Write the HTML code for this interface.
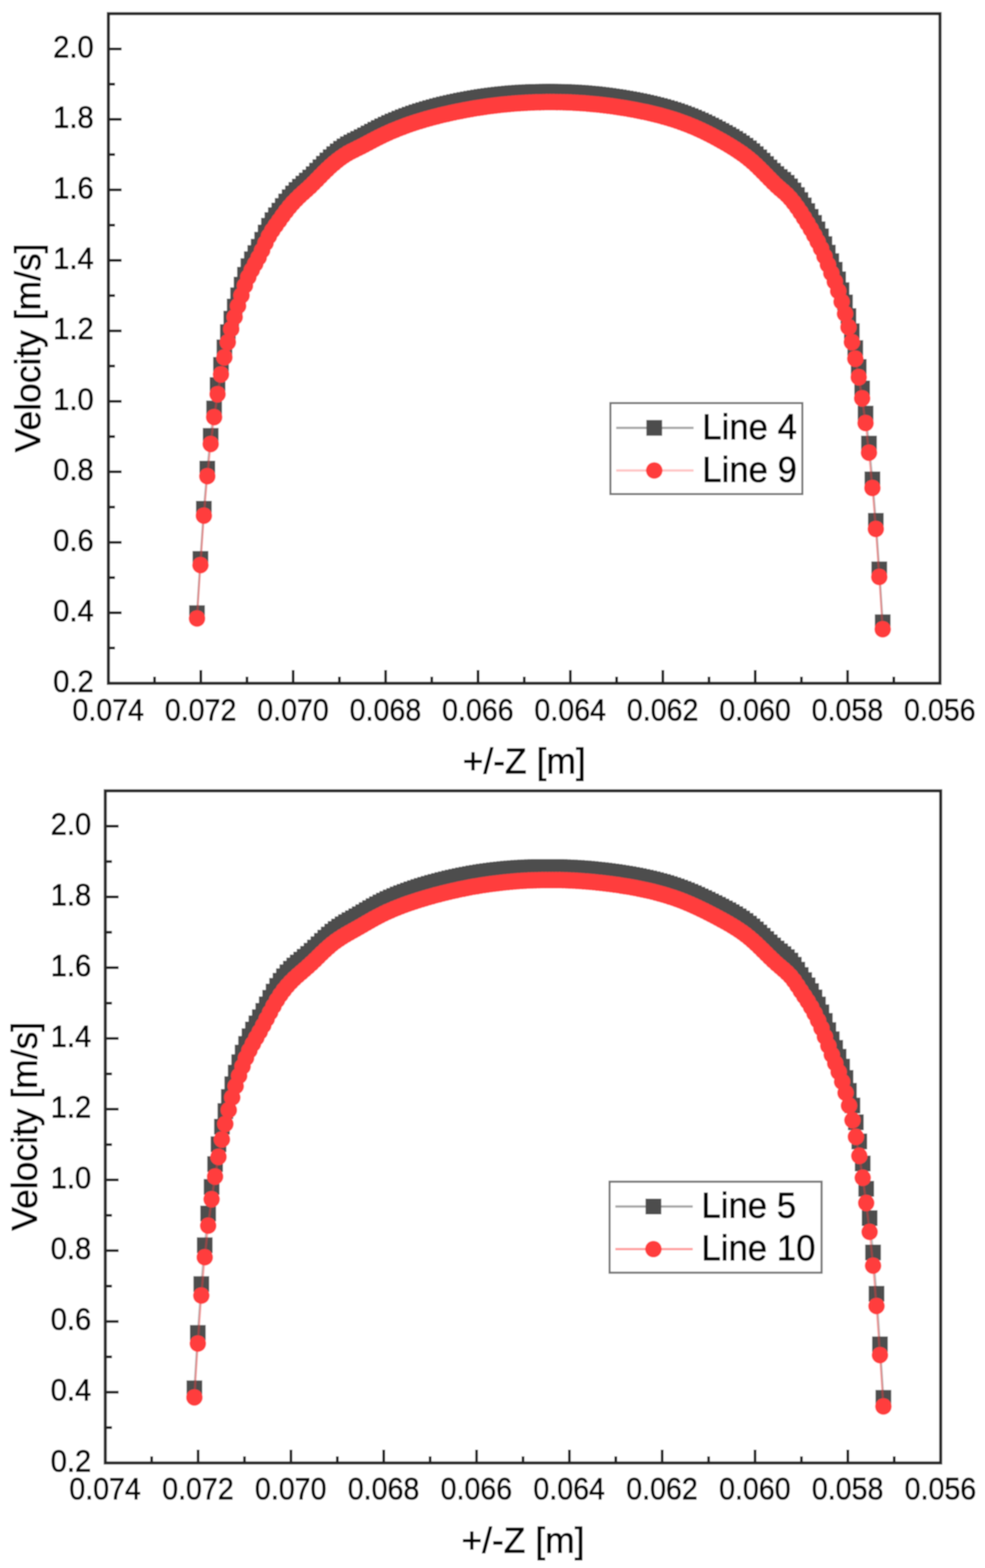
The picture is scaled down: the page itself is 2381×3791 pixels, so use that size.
<!DOCTYPE html>
<html lang="en">
<head>
<meta charset="utf-8">
<title>Velocity profiles</title>
<style>
html,body{margin:0;padding:0;background:#fff;}
body{width:2381px;height:3791px;overflow:hidden;}
svg{display:block;font-family:"Liberation Sans", Arial, Helvetica, sans-serif;}
text{fill:#000;stroke:#000;stroke-width:1.7px;stroke-linejoin:round;}
</style>
</head>
<body>
<svg width="2381" height="3791" viewBox="0 0 2381 3791">
<defs><filter id="soft" x="0" y="0" width="100%" height="100%" filterUnits="objectBoundingBox"><feGaussianBlur stdDeviation="1.4"/></filter></defs>
<g filter="url(#soft)">
<rect width="2381" height="3791" fill="#fff"/>
<polyline points="476.2,1482.4 484.5,1351.3 492.8,1230.0 501.1,1133.0 509.3,1053.8 517.6,987.5 525.9,930.9 534.2,882.1 542.5,839.8 550.8,802.9 559.1,770.4 567.4,741.0 575.6,713.8 583.9,688.2 592.2,664.2 600.5,643.4 608.8,626.7 617.1,611.7 625.4,596.5 633.7,579.6 642.0,562.0 650.2,545.7 658.5,532.0 666.8,520.2 675.1,509.0 683.4,497.8 691.7,486.9 700.0,476.7 708.2,467.5 716.5,459.1 724.8,451.1 733.1,443.7 741.4,436.4 749.7,428.9 758.0,420.9 766.3,412.5 774.5,404.1 782.8,395.7 791.1,387.7 799.4,379.9 807.7,372.6 816.0,365.8 824.3,359.5 832.6,353.8 840.8,348.6 849.1,344.0 857.4,339.7 865.7,335.6 874.0,331.4 882.3,327.0 890.6,322.5 898.9,318.0 907.1,313.6 915.4,309.3 923.7,305.1 932.0,301.1 940.3,297.2 948.6,293.5 956.9,290.0 965.2,286.6 973.5,283.3 981.7,280.1 990.0,277.1 998.3,274.2 1006.6,271.4 1014.9,268.7 1023.2,266.2 1031.5,263.7 1039.8,261.3 1048.0,259.0 1056.3,256.7 1064.6,254.6 1072.9,252.5 1081.2,250.6 1089.5,248.7 1097.8,246.8 1106.0,245.0 1114.3,243.3 1122.6,241.7 1130.9,240.1 1139.2,238.6 1147.5,237.1 1155.8,235.7 1164.1,234.4 1172.3,233.1 1180.6,231.9 1188.9,230.8 1197.2,229.8 1205.5,228.8 1213.8,227.8 1222.1,227.0 1230.4,226.2 1238.6,225.4 1246.9,224.8 1255.2,224.2 1263.5,223.6 1271.8,223.2 1280.1,222.8 1288.4,222.4 1296.7,222.2 1305.0,222.0 1313.2,221.8 1321.5,221.7 1329.8,221.7 1338.1,221.8 1346.4,221.9 1354.7,222.1 1363.0,222.3 1371.2,222.7 1379.5,223.0 1387.8,223.5 1396.1,224.0 1404.4,224.6 1412.7,225.3 1421.0,226.0 1429.3,226.8 1437.5,227.6 1445.8,228.6 1454.1,229.6 1462.4,230.6 1470.7,231.7 1479.0,232.9 1487.3,234.1 1495.6,235.4 1503.8,236.8 1512.1,238.2 1520.4,239.7 1528.7,241.2 1537.0,242.8 1545.3,244.5 1553.6,246.2 1561.9,248.0 1570.2,249.9 1578.4,251.9 1586.7,254.0 1595.0,256.1 1603.3,258.4 1611.6,260.8 1619.9,263.2 1628.2,265.8 1636.5,268.5 1644.7,271.4 1653.0,274.3 1661.3,277.5 1669.6,280.7 1677.9,284.1 1686.2,287.7 1694.5,291.4 1702.8,295.3 1711.0,299.2 1719.3,303.4 1727.6,307.6 1735.9,312.0 1744.2,316.5 1752.5,321.0 1760.8,325.7 1769.0,330.5 1777.3,335.5 1785.6,340.8 1793.9,346.3 1802.2,352.1 1810.5,358.4 1818.8,365.2 1827.1,372.5 1835.3,380.2 1843.6,388.2 1851.9,396.4 1860.2,404.7 1868.5,412.8 1876.8,420.6 1885.1,427.8 1893.4,434.5 1901.7,441.8 1909.9,450.4 1918.2,460.3 1926.5,471.4 1934.8,483.6 1943.1,496.5 1951.4,510.1 1959.7,524.0 1968.0,538.7 1976.2,554.3 1984.5,571.2 1992.8,590.0 2001.1,610.7 2009.4,631.3 2017.7,652.0 2026.0,675.2 2034.2,701.5 2042.5,731.0 2050.8,764.0 2059.1,800.7 2067.4,841.5 2075.7,887.1 2084.0,939.1 2092.3,999.9 2100.5,1072.5 2108.8,1158.9 2117.1,1259.2 2125.4,1376.5 2133.7,1504.4" fill="none" stroke="#4d4d4d" stroke-opacity="0.35" stroke-width="5"/>
<g fill="#4d4d4d"><rect x="457.2" y="1463.4" width="38" height="38"/><rect x="465.5" y="1332.3" width="38" height="38"/><rect x="473.8" y="1211.0" width="38" height="38"/><rect x="482.1" y="1114.0" width="38" height="38"/><rect x="490.3" y="1034.8" width="38" height="38"/><rect x="498.6" y="968.5" width="38" height="38"/><rect x="506.9" y="911.9" width="38" height="38"/><rect x="515.2" y="863.1" width="38" height="38"/><rect x="523.5" y="820.8" width="38" height="38"/><rect x="531.8" y="783.9" width="38" height="38"/><rect x="540.1" y="751.4" width="38" height="38"/><rect x="548.4" y="722.0" width="38" height="38"/><rect x="556.6" y="694.8" width="38" height="38"/><rect x="564.9" y="669.2" width="38" height="38"/><rect x="573.2" y="645.2" width="38" height="38"/><rect x="581.5" y="624.4" width="38" height="38"/><rect x="589.8" y="607.7" width="38" height="38"/><rect x="598.1" y="592.7" width="38" height="38"/><rect x="606.4" y="577.5" width="38" height="38"/><rect x="614.7" y="560.6" width="38" height="38"/><rect x="623.0" y="543.0" width="38" height="38"/><rect x="631.2" y="526.7" width="38" height="38"/><rect x="639.5" y="513.0" width="38" height="38"/><rect x="647.8" y="501.2" width="38" height="38"/><rect x="656.1" y="490.0" width="38" height="38"/><rect x="664.4" y="478.8" width="38" height="38"/><rect x="672.7" y="467.9" width="38" height="38"/><rect x="681.0" y="457.7" width="38" height="38"/><rect x="689.2" y="448.5" width="38" height="38"/><rect x="697.5" y="440.1" width="38" height="38"/><rect x="705.8" y="432.1" width="38" height="38"/><rect x="714.1" y="424.7" width="38" height="38"/><rect x="722.4" y="417.4" width="38" height="38"/><rect x="730.7" y="409.9" width="38" height="38"/><rect x="739.0" y="401.9" width="38" height="38"/><rect x="747.3" y="393.5" width="38" height="38"/><rect x="755.5" y="385.1" width="38" height="38"/><rect x="763.8" y="376.7" width="38" height="38"/><rect x="772.1" y="368.7" width="38" height="38"/><rect x="780.4" y="360.9" width="38" height="38"/><rect x="788.7" y="353.6" width="38" height="38"/><rect x="797.0" y="346.8" width="38" height="38"/><rect x="805.3" y="340.5" width="38" height="38"/><rect x="813.6" y="334.8" width="38" height="38"/><rect x="821.8" y="329.6" width="38" height="38"/><rect x="830.1" y="325.0" width="38" height="38"/><rect x="838.4" y="320.7" width="38" height="38"/><rect x="846.7" y="316.6" width="38" height="38"/><rect x="855.0" y="312.4" width="38" height="38"/><rect x="863.3" y="308.0" width="38" height="38"/><rect x="871.6" y="303.5" width="38" height="38"/><rect x="879.9" y="299.0" width="38" height="38"/><rect x="888.1" y="294.6" width="38" height="38"/><rect x="896.4" y="290.3" width="38" height="38"/><rect x="904.7" y="286.1" width="38" height="38"/><rect x="913.0" y="282.1" width="38" height="38"/><rect x="921.3" y="278.2" width="38" height="38"/><rect x="929.6" y="274.5" width="38" height="38"/><rect x="937.9" y="271.0" width="38" height="38"/><rect x="946.2" y="267.6" width="38" height="38"/><rect x="954.5" y="264.3" width="38" height="38"/><rect x="962.7" y="261.1" width="38" height="38"/><rect x="971.0" y="258.1" width="38" height="38"/><rect x="979.3" y="255.2" width="38" height="38"/><rect x="987.6" y="252.4" width="38" height="38"/><rect x="995.9" y="249.7" width="38" height="38"/><rect x="1004.2" y="247.2" width="38" height="38"/><rect x="1012.5" y="244.7" width="38" height="38"/><rect x="1020.8" y="242.3" width="38" height="38"/><rect x="1029.0" y="240.0" width="38" height="38"/><rect x="1037.3" y="237.7" width="38" height="38"/><rect x="1045.6" y="235.6" width="38" height="38"/><rect x="1053.9" y="233.5" width="38" height="38"/><rect x="1062.2" y="231.6" width="38" height="38"/><rect x="1070.5" y="229.7" width="38" height="38"/><rect x="1078.8" y="227.8" width="38" height="38"/><rect x="1087.0" y="226.0" width="38" height="38"/><rect x="1095.3" y="224.3" width="38" height="38"/><rect x="1103.6" y="222.7" width="38" height="38"/><rect x="1111.9" y="221.1" width="38" height="38"/><rect x="1120.2" y="219.6" width="38" height="38"/><rect x="1128.5" y="218.1" width="38" height="38"/><rect x="1136.8" y="216.7" width="38" height="38"/><rect x="1145.1" y="215.4" width="38" height="38"/><rect x="1153.3" y="214.1" width="38" height="38"/><rect x="1161.6" y="212.9" width="38" height="38"/><rect x="1169.9" y="211.8" width="38" height="38"/><rect x="1178.2" y="210.8" width="38" height="38"/><rect x="1186.5" y="209.8" width="38" height="38"/><rect x="1194.8" y="208.8" width="38" height="38"/><rect x="1203.1" y="208.0" width="38" height="38"/><rect x="1211.4" y="207.2" width="38" height="38"/><rect x="1219.6" y="206.4" width="38" height="38"/><rect x="1227.9" y="205.8" width="38" height="38"/><rect x="1236.2" y="205.2" width="38" height="38"/><rect x="1244.5" y="204.6" width="38" height="38"/><rect x="1252.8" y="204.2" width="38" height="38"/><rect x="1261.1" y="203.8" width="38" height="38"/><rect x="1269.4" y="203.4" width="38" height="38"/><rect x="1277.7" y="203.2" width="38" height="38"/><rect x="1286.0" y="203.0" width="38" height="38"/><rect x="1294.2" y="202.8" width="38" height="38"/><rect x="1302.5" y="202.7" width="38" height="38"/><rect x="1310.8" y="202.7" width="38" height="38"/><rect x="1319.1" y="202.8" width="38" height="38"/><rect x="1327.4" y="202.9" width="38" height="38"/><rect x="1335.7" y="203.1" width="38" height="38"/><rect x="1344.0" y="203.3" width="38" height="38"/><rect x="1352.2" y="203.7" width="38" height="38"/><rect x="1360.5" y="204.0" width="38" height="38"/><rect x="1368.8" y="204.5" width="38" height="38"/><rect x="1377.1" y="205.0" width="38" height="38"/><rect x="1385.4" y="205.6" width="38" height="38"/><rect x="1393.7" y="206.3" width="38" height="38"/><rect x="1402.0" y="207.0" width="38" height="38"/><rect x="1410.3" y="207.8" width="38" height="38"/><rect x="1418.5" y="208.6" width="38" height="38"/><rect x="1426.8" y="209.6" width="38" height="38"/><rect x="1435.1" y="210.6" width="38" height="38"/><rect x="1443.4" y="211.6" width="38" height="38"/><rect x="1451.7" y="212.7" width="38" height="38"/><rect x="1460.0" y="213.9" width="38" height="38"/><rect x="1468.3" y="215.1" width="38" height="38"/><rect x="1476.6" y="216.4" width="38" height="38"/><rect x="1484.8" y="217.8" width="38" height="38"/><rect x="1493.1" y="219.2" width="38" height="38"/><rect x="1501.4" y="220.7" width="38" height="38"/><rect x="1509.7" y="222.2" width="38" height="38"/><rect x="1518.0" y="223.8" width="38" height="38"/><rect x="1526.3" y="225.5" width="38" height="38"/><rect x="1534.6" y="227.2" width="38" height="38"/><rect x="1542.9" y="229.0" width="38" height="38"/><rect x="1551.2" y="230.9" width="38" height="38"/><rect x="1559.4" y="232.9" width="38" height="38"/><rect x="1567.7" y="235.0" width="38" height="38"/><rect x="1576.0" y="237.1" width="38" height="38"/><rect x="1584.3" y="239.4" width="38" height="38"/><rect x="1592.6" y="241.8" width="38" height="38"/><rect x="1600.9" y="244.2" width="38" height="38"/><rect x="1609.2" y="246.8" width="38" height="38"/><rect x="1617.5" y="249.5" width="38" height="38"/><rect x="1625.7" y="252.4" width="38" height="38"/><rect x="1634.0" y="255.3" width="38" height="38"/><rect x="1642.3" y="258.5" width="38" height="38"/><rect x="1650.6" y="261.7" width="38" height="38"/><rect x="1658.9" y="265.1" width="38" height="38"/><rect x="1667.2" y="268.7" width="38" height="38"/><rect x="1675.5" y="272.4" width="38" height="38"/><rect x="1683.8" y="276.3" width="38" height="38"/><rect x="1692.0" y="280.2" width="38" height="38"/><rect x="1700.3" y="284.4" width="38" height="38"/><rect x="1708.6" y="288.6" width="38" height="38"/><rect x="1716.9" y="293.0" width="38" height="38"/><rect x="1725.2" y="297.5" width="38" height="38"/><rect x="1733.5" y="302.0" width="38" height="38"/><rect x="1741.8" y="306.7" width="38" height="38"/><rect x="1750.0" y="311.5" width="38" height="38"/><rect x="1758.3" y="316.5" width="38" height="38"/><rect x="1766.6" y="321.8" width="38" height="38"/><rect x="1774.9" y="327.3" width="38" height="38"/><rect x="1783.2" y="333.1" width="38" height="38"/><rect x="1791.5" y="339.4" width="38" height="38"/><rect x="1799.8" y="346.2" width="38" height="38"/><rect x="1808.1" y="353.5" width="38" height="38"/><rect x="1816.3" y="361.2" width="38" height="38"/><rect x="1824.6" y="369.2" width="38" height="38"/><rect x="1832.9" y="377.4" width="38" height="38"/><rect x="1841.2" y="385.7" width="38" height="38"/><rect x="1849.5" y="393.8" width="38" height="38"/><rect x="1857.8" y="401.6" width="38" height="38"/><rect x="1866.1" y="408.8" width="38" height="38"/><rect x="1874.4" y="415.5" width="38" height="38"/><rect x="1882.7" y="422.8" width="38" height="38"/><rect x="1890.9" y="431.4" width="38" height="38"/><rect x="1899.2" y="441.3" width="38" height="38"/><rect x="1907.5" y="452.4" width="38" height="38"/><rect x="1915.8" y="464.6" width="38" height="38"/><rect x="1924.1" y="477.5" width="38" height="38"/><rect x="1932.4" y="491.1" width="38" height="38"/><rect x="1940.7" y="505.0" width="38" height="38"/><rect x="1949.0" y="519.7" width="38" height="38"/><rect x="1957.2" y="535.3" width="38" height="38"/><rect x="1965.5" y="552.2" width="38" height="38"/><rect x="1973.8" y="571.0" width="38" height="38"/><rect x="1982.1" y="591.7" width="38" height="38"/><rect x="1990.4" y="612.3" width="38" height="38"/><rect x="1998.7" y="633.0" width="38" height="38"/><rect x="2007.0" y="656.2" width="38" height="38"/><rect x="2015.2" y="682.5" width="38" height="38"/><rect x="2023.5" y="712.0" width="38" height="38"/><rect x="2031.8" y="745.0" width="38" height="38"/><rect x="2040.1" y="781.7" width="38" height="38"/><rect x="2048.4" y="822.5" width="38" height="38"/><rect x="2056.7" y="868.1" width="38" height="38"/><rect x="2065.0" y="920.1" width="38" height="38"/><rect x="2073.3" y="980.9" width="38" height="38"/><rect x="2081.5" y="1053.5" width="38" height="38"/><rect x="2089.8" y="1139.9" width="38" height="38"/><rect x="2098.1" y="1240.2" width="38" height="38"/><rect x="2106.4" y="1357.5" width="38" height="38"/><rect x="2114.7" y="1485.4" width="38" height="38"/></g>
<polyline points="476.2,1495.5 484.5,1366.4 492.8,1246.9 501.1,1151.5 509.3,1073.7 517.6,1008.7 525.9,953.2 534.2,905.3 542.5,863.9 550.8,827.6 559.1,795.7 567.4,766.7 575.6,739.9 583.9,714.5 592.2,690.7 600.5,670.0 608.8,653.2 617.1,638.2 625.4,622.8 633.7,605.7 642.0,587.9 650.2,571.4 658.5,557.4 666.8,545.3 675.1,533.8 683.4,522.2 691.7,511.0 700.0,500.5 708.2,491.0 716.5,482.4 724.8,474.2 733.1,466.6 741.4,459.2 749.7,451.5 758.0,443.4 766.3,435.0 774.5,426.5 782.8,418.1 791.1,410.0 799.4,402.2 807.7,395.0 816.0,388.2 824.3,381.9 832.6,376.2 840.8,371.1 849.1,366.6 857.4,362.4 865.7,358.3 874.0,354.2 882.3,349.9 890.6,345.5 898.9,341.1 907.1,336.8 915.4,332.5 923.7,328.4 932.0,324.5 940.3,320.7 948.6,317.1 956.9,313.7 965.2,310.3 973.5,307.2 981.7,304.1 990.0,301.1 998.3,298.3 1006.6,295.6 1014.9,293.0 1023.2,290.5 1031.5,288.1 1039.8,285.7 1048.0,283.5 1056.3,281.4 1064.6,279.3 1072.9,277.3 1081.2,275.4 1089.5,273.5 1097.8,271.7 1106.0,270.0 1114.3,268.4 1122.6,266.8 1130.9,265.2 1139.2,263.8 1147.5,262.3 1155.8,261.0 1164.1,259.7 1172.3,258.5 1180.6,257.3 1188.9,256.2 1197.2,255.2 1205.5,254.2 1213.8,253.3 1222.1,252.4 1230.4,251.7 1238.6,250.9 1246.9,250.3 1255.2,249.7 1263.5,249.2 1271.8,248.7 1280.1,248.3 1288.4,247.9 1296.7,247.6 1305.0,247.4 1313.2,247.2 1321.5,247.1 1329.8,247.1 1338.1,247.1 1346.4,247.2 1354.7,247.3 1363.0,247.5 1371.2,247.8 1379.5,248.1 1387.8,248.5 1396.1,249.0 1404.4,249.5 1412.7,250.1 1421.0,250.7 1429.3,251.5 1437.5,252.2 1445.8,253.1 1454.1,254.0 1462.4,255.0 1470.7,256.0 1479.0,257.1 1487.3,258.3 1495.6,259.5 1503.8,260.8 1512.1,262.1 1520.4,263.5 1528.7,265.0 1537.0,266.5 1545.3,268.2 1553.6,269.9 1561.9,271.6 1570.2,273.5 1578.4,275.4 1586.7,277.5 1595.0,279.6 1603.3,281.9 1611.6,284.2 1619.9,286.7 1628.2,289.3 1636.5,292.0 1644.7,294.9 1653.0,297.9 1661.3,301.0 1669.6,304.4 1677.9,307.8 1686.2,311.5 1694.5,315.3 1702.8,319.2 1711.0,323.3 1719.3,327.5 1727.6,331.9 1735.9,336.4 1744.2,341.1 1752.5,345.8 1760.8,350.7 1769.0,355.7 1777.3,360.9 1785.6,366.4 1793.9,372.1 1802.2,378.2 1810.5,384.8 1818.8,391.8 1827.1,399.4 1835.3,407.4 1843.6,415.7 1851.9,424.2 1860.2,432.7 1868.5,441.1 1876.8,449.2 1885.1,456.6 1893.4,463.6 1901.7,471.2 1909.9,479.9 1918.2,490.0 1926.5,501.3 1934.8,513.5 1943.1,526.6 1951.4,540.2 1959.7,554.2 1968.0,568.8 1976.2,584.3 1984.5,601.2 1992.8,619.8 2001.1,640.2 2009.4,660.7 2017.7,681.0 2026.0,703.9 2034.2,729.7 2042.5,758.7 2050.8,791.1 2059.1,827.2 2067.4,867.3 2075.7,912.1 2084.0,963.3 2092.3,1023.1 2100.5,1094.7 2108.8,1180.0 2117.1,1279.1 2125.4,1395.1 2133.7,1521.6" fill="none" stroke="#ff3c3c" stroke-opacity="0.4" stroke-width="5"/>
<g fill="#ff3c3c"><circle cx="476.2" cy="1495.5" r="20"/><circle cx="484.5" cy="1366.4" r="20"/><circle cx="492.8" cy="1246.9" r="20"/><circle cx="501.1" cy="1151.5" r="20"/><circle cx="509.3" cy="1073.7" r="20"/><circle cx="517.6" cy="1008.7" r="20"/><circle cx="525.9" cy="953.2" r="20"/><circle cx="534.2" cy="905.3" r="20"/><circle cx="542.5" cy="863.9" r="20"/><circle cx="550.8" cy="827.6" r="20"/><circle cx="559.1" cy="795.7" r="20"/><circle cx="567.4" cy="766.7" r="20"/><circle cx="575.6" cy="739.9" r="20"/><circle cx="583.9" cy="714.5" r="20"/><circle cx="592.2" cy="690.7" r="20"/><circle cx="600.5" cy="670.0" r="20"/><circle cx="608.8" cy="653.2" r="20"/><circle cx="617.1" cy="638.2" r="20"/><circle cx="625.4" cy="622.8" r="20"/><circle cx="633.7" cy="605.7" r="20"/><circle cx="642.0" cy="587.9" r="20"/><circle cx="650.2" cy="571.4" r="20"/><circle cx="658.5" cy="557.4" r="20"/><circle cx="666.8" cy="545.3" r="20"/><circle cx="675.1" cy="533.8" r="20"/><circle cx="683.4" cy="522.2" r="20"/><circle cx="691.7" cy="511.0" r="20"/><circle cx="700.0" cy="500.5" r="20"/><circle cx="708.2" cy="491.0" r="20"/><circle cx="716.5" cy="482.4" r="20"/><circle cx="724.8" cy="474.2" r="20"/><circle cx="733.1" cy="466.6" r="20"/><circle cx="741.4" cy="459.2" r="20"/><circle cx="749.7" cy="451.5" r="20"/><circle cx="758.0" cy="443.4" r="20"/><circle cx="766.3" cy="435.0" r="20"/><circle cx="774.5" cy="426.5" r="20"/><circle cx="782.8" cy="418.1" r="20"/><circle cx="791.1" cy="410.0" r="20"/><circle cx="799.4" cy="402.2" r="20"/><circle cx="807.7" cy="395.0" r="20"/><circle cx="816.0" cy="388.2" r="20"/><circle cx="824.3" cy="381.9" r="20"/><circle cx="832.6" cy="376.2" r="20"/><circle cx="840.8" cy="371.1" r="20"/><circle cx="849.1" cy="366.6" r="20"/><circle cx="857.4" cy="362.4" r="20"/><circle cx="865.7" cy="358.3" r="20"/><circle cx="874.0" cy="354.2" r="20"/><circle cx="882.3" cy="349.9" r="20"/><circle cx="890.6" cy="345.5" r="20"/><circle cx="898.9" cy="341.1" r="20"/><circle cx="907.1" cy="336.8" r="20"/><circle cx="915.4" cy="332.5" r="20"/><circle cx="923.7" cy="328.4" r="20"/><circle cx="932.0" cy="324.5" r="20"/><circle cx="940.3" cy="320.7" r="20"/><circle cx="948.6" cy="317.1" r="20"/><circle cx="956.9" cy="313.7" r="20"/><circle cx="965.2" cy="310.3" r="20"/><circle cx="973.5" cy="307.2" r="20"/><circle cx="981.7" cy="304.1" r="20"/><circle cx="990.0" cy="301.1" r="20"/><circle cx="998.3" cy="298.3" r="20"/><circle cx="1006.6" cy="295.6" r="20"/><circle cx="1014.9" cy="293.0" r="20"/><circle cx="1023.2" cy="290.5" r="20"/><circle cx="1031.5" cy="288.1" r="20"/><circle cx="1039.8" cy="285.7" r="20"/><circle cx="1048.0" cy="283.5" r="20"/><circle cx="1056.3" cy="281.4" r="20"/><circle cx="1064.6" cy="279.3" r="20"/><circle cx="1072.9" cy="277.3" r="20"/><circle cx="1081.2" cy="275.4" r="20"/><circle cx="1089.5" cy="273.5" r="20"/><circle cx="1097.8" cy="271.7" r="20"/><circle cx="1106.0" cy="270.0" r="20"/><circle cx="1114.3" cy="268.4" r="20"/><circle cx="1122.6" cy="266.8" r="20"/><circle cx="1130.9" cy="265.2" r="20"/><circle cx="1139.2" cy="263.8" r="20"/><circle cx="1147.5" cy="262.3" r="20"/><circle cx="1155.8" cy="261.0" r="20"/><circle cx="1164.1" cy="259.7" r="20"/><circle cx="1172.3" cy="258.5" r="20"/><circle cx="1180.6" cy="257.3" r="20"/><circle cx="1188.9" cy="256.2" r="20"/><circle cx="1197.2" cy="255.2" r="20"/><circle cx="1205.5" cy="254.2" r="20"/><circle cx="1213.8" cy="253.3" r="20"/><circle cx="1222.1" cy="252.4" r="20"/><circle cx="1230.4" cy="251.7" r="20"/><circle cx="1238.6" cy="250.9" r="20"/><circle cx="1246.9" cy="250.3" r="20"/><circle cx="1255.2" cy="249.7" r="20"/><circle cx="1263.5" cy="249.2" r="20"/><circle cx="1271.8" cy="248.7" r="20"/><circle cx="1280.1" cy="248.3" r="20"/><circle cx="1288.4" cy="247.9" r="20"/><circle cx="1296.7" cy="247.6" r="20"/><circle cx="1305.0" cy="247.4" r="20"/><circle cx="1313.2" cy="247.2" r="20"/><circle cx="1321.5" cy="247.1" r="20"/><circle cx="1329.8" cy="247.1" r="20"/><circle cx="1338.1" cy="247.1" r="20"/><circle cx="1346.4" cy="247.2" r="20"/><circle cx="1354.7" cy="247.3" r="20"/><circle cx="1363.0" cy="247.5" r="20"/><circle cx="1371.2" cy="247.8" r="20"/><circle cx="1379.5" cy="248.1" r="20"/><circle cx="1387.8" cy="248.5" r="20"/><circle cx="1396.1" cy="249.0" r="20"/><circle cx="1404.4" cy="249.5" r="20"/><circle cx="1412.7" cy="250.1" r="20"/><circle cx="1421.0" cy="250.7" r="20"/><circle cx="1429.3" cy="251.5" r="20"/><circle cx="1437.5" cy="252.2" r="20"/><circle cx="1445.8" cy="253.1" r="20"/><circle cx="1454.1" cy="254.0" r="20"/><circle cx="1462.4" cy="255.0" r="20"/><circle cx="1470.7" cy="256.0" r="20"/><circle cx="1479.0" cy="257.1" r="20"/><circle cx="1487.3" cy="258.3" r="20"/><circle cx="1495.6" cy="259.5" r="20"/><circle cx="1503.8" cy="260.8" r="20"/><circle cx="1512.1" cy="262.1" r="20"/><circle cx="1520.4" cy="263.5" r="20"/><circle cx="1528.7" cy="265.0" r="20"/><circle cx="1537.0" cy="266.5" r="20"/><circle cx="1545.3" cy="268.2" r="20"/><circle cx="1553.6" cy="269.9" r="20"/><circle cx="1561.9" cy="271.6" r="20"/><circle cx="1570.2" cy="273.5" r="20"/><circle cx="1578.4" cy="275.4" r="20"/><circle cx="1586.7" cy="277.5" r="20"/><circle cx="1595.0" cy="279.6" r="20"/><circle cx="1603.3" cy="281.9" r="20"/><circle cx="1611.6" cy="284.2" r="20"/><circle cx="1619.9" cy="286.7" r="20"/><circle cx="1628.2" cy="289.3" r="20"/><circle cx="1636.5" cy="292.0" r="20"/><circle cx="1644.7" cy="294.9" r="20"/><circle cx="1653.0" cy="297.9" r="20"/><circle cx="1661.3" cy="301.0" r="20"/><circle cx="1669.6" cy="304.4" r="20"/><circle cx="1677.9" cy="307.8" r="20"/><circle cx="1686.2" cy="311.5" r="20"/><circle cx="1694.5" cy="315.3" r="20"/><circle cx="1702.8" cy="319.2" r="20"/><circle cx="1711.0" cy="323.3" r="20"/><circle cx="1719.3" cy="327.5" r="20"/><circle cx="1727.6" cy="331.9" r="20"/><circle cx="1735.9" cy="336.4" r="20"/><circle cx="1744.2" cy="341.1" r="20"/><circle cx="1752.5" cy="345.8" r="20"/><circle cx="1760.8" cy="350.7" r="20"/><circle cx="1769.0" cy="355.7" r="20"/><circle cx="1777.3" cy="360.9" r="20"/><circle cx="1785.6" cy="366.4" r="20"/><circle cx="1793.9" cy="372.1" r="20"/><circle cx="1802.2" cy="378.2" r="20"/><circle cx="1810.5" cy="384.8" r="20"/><circle cx="1818.8" cy="391.8" r="20"/><circle cx="1827.1" cy="399.4" r="20"/><circle cx="1835.3" cy="407.4" r="20"/><circle cx="1843.6" cy="415.7" r="20"/><circle cx="1851.9" cy="424.2" r="20"/><circle cx="1860.2" cy="432.7" r="20"/><circle cx="1868.5" cy="441.1" r="20"/><circle cx="1876.8" cy="449.2" r="20"/><circle cx="1885.1" cy="456.6" r="20"/><circle cx="1893.4" cy="463.6" r="20"/><circle cx="1901.7" cy="471.2" r="20"/><circle cx="1909.9" cy="479.9" r="20"/><circle cx="1918.2" cy="490.0" r="20"/><circle cx="1926.5" cy="501.3" r="20"/><circle cx="1934.8" cy="513.5" r="20"/><circle cx="1943.1" cy="526.6" r="20"/><circle cx="1951.4" cy="540.2" r="20"/><circle cx="1959.7" cy="554.2" r="20"/><circle cx="1968.0" cy="568.8" r="20"/><circle cx="1976.2" cy="584.3" r="20"/><circle cx="1984.5" cy="601.2" r="20"/><circle cx="1992.8" cy="619.8" r="20"/><circle cx="2001.1" cy="640.2" r="20"/><circle cx="2009.4" cy="660.7" r="20"/><circle cx="2017.7" cy="681.0" r="20"/><circle cx="2026.0" cy="703.9" r="20"/><circle cx="2034.2" cy="729.7" r="20"/><circle cx="2042.5" cy="758.7" r="20"/><circle cx="2050.8" cy="791.1" r="20"/><circle cx="2059.1" cy="827.2" r="20"/><circle cx="2067.4" cy="867.3" r="20"/><circle cx="2075.7" cy="912.1" r="20"/><circle cx="2084.0" cy="963.3" r="20"/><circle cx="2092.3" cy="1023.1" r="20"/><circle cx="2100.5" cy="1094.7" r="20"/><circle cx="2108.8" cy="1180.0" r="20"/><circle cx="2117.1" cy="1279.1" r="20"/><circle cx="2125.4" cy="1395.1" r="20"/><circle cx="2133.7" cy="1521.6" r="20"/></g>
<path d="M373.7 1652 v-16 M485.4 1652 v-32 M597.0 1652 v-16 M708.7 1652 v-32 M820.4 1652 v-16 M932.1 1652 v-32 M1043.8 1652 v-16 M1155.5 1652 v-32 M1267.2 1652 v-16 M1378.8 1652 v-32 M1490.5 1652 v-16 M1602.2 1652 v-32 M1713.9 1652 v-16 M1825.6 1652 v-32 M1937.2 1652 v-16 M2048.9 1652 v-32 M2160.6 1652 v-16 M262 1566.8 h16 M262 1481.6 h32 M262 1396.4 h16 M262 1311.2 h32 M262 1225.9 h16 M262 1140.7 h32 M262 1055.5 h16 M262 970.3 h32 M262 885.1 h16 M262 799.9 h32 M262 714.7 h16 M262 629.5 h32 M262 544.3 h16 M262 459.1 h32 M262 373.8 h16 M262 288.6 h32 M262 203.4 h16 M262 118.2 h32" stroke="#111" stroke-width="6.5" fill="none"/>
<rect x="262" y="33" width="2010.3000000000002" height="1619" fill="none" stroke="#262626" stroke-width="7.6"/>
<text transform="translate(261.5 1741.5) scale(0.930 1)" font-size="74.3" text-anchor="middle" stroke-width="1.0">0.074</text>
<text transform="translate(484.9 1741.5) scale(0.930 1)" font-size="74.3" text-anchor="middle" stroke-width="1.0">0.072</text>
<text transform="translate(708.2 1741.5) scale(0.930 1)" font-size="74.3" text-anchor="middle" stroke-width="1.0">0.070</text>
<text transform="translate(931.6 1741.5) scale(0.930 1)" font-size="74.3" text-anchor="middle" stroke-width="1.0">0.068</text>
<text transform="translate(1155.0 1741.5) scale(0.930 1)" font-size="74.3" text-anchor="middle" stroke-width="1.0">0.066</text>
<text transform="translate(1378.3 1741.5) scale(0.930 1)" font-size="74.3" text-anchor="middle" stroke-width="1.0">0.064</text>
<text transform="translate(1601.7 1741.5) scale(0.930 1)" font-size="74.3" text-anchor="middle" stroke-width="1.0">0.062</text>
<text transform="translate(1825.1 1741.5) scale(0.930 1)" font-size="74.3" text-anchor="middle" stroke-width="1.0">0.060</text>
<text transform="translate(2048.4 1741.5) scale(0.930 1)" font-size="74.3" text-anchor="middle" stroke-width="1.0">0.058</text>
<text transform="translate(2271.8 1741.5) scale(0.930 1)" font-size="74.3" text-anchor="middle" stroke-width="1.0">0.056</text>
<text transform="translate(226.5 1672.5) scale(0.950 1)" font-size="74.3" text-anchor="end" stroke-width="1.0">0.2</text>
<text transform="translate(226.5 1502.1) scale(0.950 1)" font-size="74.3" text-anchor="end" stroke-width="1.0">0.4</text>
<text transform="translate(226.5 1331.7) scale(0.950 1)" font-size="74.3" text-anchor="end" stroke-width="1.0">0.6</text>
<text transform="translate(226.5 1161.2) scale(0.950 1)" font-size="74.3" text-anchor="end" stroke-width="1.0">0.8</text>
<text transform="translate(226.5 990.8) scale(0.950 1)" font-size="74.3" text-anchor="end" stroke-width="1.0">1.0</text>
<text transform="translate(226.5 820.4) scale(0.950 1)" font-size="74.3" text-anchor="end" stroke-width="1.0">1.2</text>
<text transform="translate(226.5 650.0) scale(0.950 1)" font-size="74.3" text-anchor="end" stroke-width="1.0">1.4</text>
<text transform="translate(226.5 479.6) scale(0.950 1)" font-size="74.3" text-anchor="end" stroke-width="1.0">1.6</text>
<text transform="translate(226.5 309.1) scale(0.950 1)" font-size="74.3" text-anchor="end" stroke-width="1.0">1.8</text>
<text transform="translate(226.5 138.7) scale(0.950 1)" font-size="74.3" text-anchor="end" stroke-width="1.0">2.0</text>
<text transform="translate(1267.2 1870.0) scale(0.976 1)" font-size="87.8" text-anchor="middle">+/-Z [m]</text>
<text transform="translate(97.0 841.0) rotate(-90) scale(0.976 1)" font-size="87.8" text-anchor="middle">Velocity [m/s]</text>
<rect x="1475.5" y="974.5" width="464.0" height="220.0" fill="#fff" stroke="#737373" stroke-width="5"/>
<path d="M1489.5 1034.5 h187" stroke="#4d4d4d" stroke-opacity="0.5" stroke-width="5.5"/>
<rect x="1562.5" y="1015.5" width="38" height="38" fill="#4d4d4d"/>
<path d="M1489.5 1137.5 h187" stroke="#ff3c3c" stroke-opacity="0.3" stroke-width="5.5"/>
<circle cx="1581.5" cy="1137.5" r="20" fill="#ff3c3c"/>
<text transform="translate(1697.5 1061.5) scale(0.957 1)" font-size="87.8" text-anchor="start">Line 4</text>
<text transform="translate(1697.5 1164.5) scale(0.957 1)" font-size="87.8" text-anchor="start">Line 9</text>
<polyline points="469.9,3356.5 478.2,3222.6 486.6,3104.5 494.9,3010.6 503.2,2933.9 511.5,2869.6 519.9,2814.4 528.2,2766.4 536.5,2724.0 544.8,2686.1 553.2,2652.0 561.5,2621.2 569.8,2593.3 578.2,2567.9 586.5,2544.8 594.8,2523.8 603.1,2505.2 611.5,2489.0 619.8,2474.0 628.1,2459.2 636.5,2443.9 644.8,2428.1 653.1,2412.4 661.4,2397.3 669.8,2383.5 678.1,2371.1 686.4,2360.2 694.7,2350.6 703.1,2341.9 711.4,2334.1 719.7,2326.9 728.1,2320.0 736.4,2313.1 744.7,2306.0 753.0,2298.6 761.4,2290.8 769.7,2282.8 778.0,2274.7 786.3,2266.9 794.7,2259.4 803.0,2252.3 811.3,2245.9 819.7,2240.0 828.0,2234.6 836.3,2229.5 844.6,2224.6 853.0,2219.9 861.3,2215.1 869.6,2210.3 877.9,2205.4 886.3,2200.4 894.6,2195.5 902.9,2190.7 911.3,2186.1 919.6,2181.6 927.9,2177.4 936.2,2173.4 944.6,2169.6 952.9,2166.0 961.2,2162.5 969.5,2159.2 977.9,2156.0 986.2,2153.0 994.5,2150.0 1002.9,2147.2 1011.2,2144.5 1019.5,2141.8 1027.8,2139.3 1036.2,2136.8 1044.5,2134.4 1052.8,2132.1 1061.2,2129.9 1069.5,2127.7 1077.8,2125.7 1086.1,2123.6 1094.5,2121.7 1102.8,2119.8 1111.1,2118.0 1119.4,2116.3 1127.8,2114.7 1136.1,2113.1 1144.4,2111.5 1152.8,2110.1 1161.1,2108.7 1169.4,2107.4 1177.7,2106.2 1186.1,2105.0 1194.4,2103.9 1202.7,2102.9 1211.0,2102.0 1219.4,2101.1 1227.7,2100.3 1236.0,2099.6 1244.4,2098.9 1252.7,2098.3 1261.0,2097.8 1269.3,2097.3 1277.7,2096.9 1286.0,2096.6 1294.3,2096.3 1302.7,2096.1 1311.0,2096.0 1319.3,2096.0 1327.6,2096.0 1336.0,2096.0 1344.3,2096.2 1352.6,2096.4 1360.9,2096.7 1369.3,2097.0 1377.6,2097.4 1385.9,2097.9 1394.3,2098.4 1402.6,2099.0 1410.9,2099.6 1419.2,2100.4 1427.6,2101.1 1435.9,2102.0 1444.2,2102.9 1452.5,2103.8 1460.9,2104.8 1469.2,2105.9 1477.5,2107.0 1485.9,2108.2 1494.2,2109.5 1502.5,2110.8 1510.8,2112.1 1519.2,2113.5 1527.5,2115.0 1535.8,2116.6 1544.1,2118.2 1552.5,2120.0 1560.8,2121.8 1569.1,2123.7 1577.5,2125.7 1585.8,2127.8 1594.1,2130.0 1602.4,2132.3 1610.8,2134.8 1619.1,2137.4 1627.4,2140.1 1635.8,2142.9 1644.1,2145.9 1652.4,2149.1 1660.7,2152.4 1669.1,2155.8 1677.4,2159.4 1685.7,2163.1 1694.0,2167.0 1702.4,2170.9 1710.7,2174.9 1719.0,2179.0 1727.4,2183.2 1735.7,2187.4 1744.0,2191.7 1752.3,2196.1 1760.7,2200.5 1769.0,2205.2 1777.3,2210.0 1785.6,2215.2 1794.0,2220.6 1802.3,2226.5 1810.6,2232.8 1819.0,2239.6 1827.3,2246.8 1835.6,2254.4 1843.9,2262.2 1852.3,2270.1 1860.6,2278.0 1868.9,2285.7 1877.2,2293.0 1885.6,2299.8 1893.9,2306.7 1902.2,2313.9 1910.6,2322.3 1918.9,2332.5 1927.2,2344.5 1935.5,2357.2 1943.9,2369.6 1952.2,2382.1 1960.5,2396.0 1968.8,2411.4 1977.2,2428.5 1985.5,2447.4 1993.8,2468.2 2002.2,2490.5 2010.5,2512.5 2018.8,2533.4 2027.1,2554.8 2035.5,2578.7 2043.8,2606.0 2052.1,2637.2 2060.5,2672.7 2068.8,2713.3 2077.1,2759.6 2085.4,2812.9 2093.8,2874.2 2102.1,2945.0 2110.4,3028.1 2118.7,3127.9 2127.1,3250.2 2135.4,3379.6" fill="none" stroke="#4d4d4d" stroke-opacity="0.35" stroke-width="5"/>
<g fill="#4d4d4d"><rect x="450.9" y="3337.5" width="38" height="38"/><rect x="459.2" y="3203.6" width="38" height="38"/><rect x="467.6" y="3085.5" width="38" height="38"/><rect x="475.9" y="2991.6" width="38" height="38"/><rect x="484.2" y="2914.9" width="38" height="38"/><rect x="492.5" y="2850.6" width="38" height="38"/><rect x="500.9" y="2795.4" width="38" height="38"/><rect x="509.2" y="2747.4" width="38" height="38"/><rect x="517.5" y="2705.0" width="38" height="38"/><rect x="525.8" y="2667.1" width="38" height="38"/><rect x="534.2" y="2633.0" width="38" height="38"/><rect x="542.5" y="2602.2" width="38" height="38"/><rect x="550.8" y="2574.3" width="38" height="38"/><rect x="559.2" y="2548.9" width="38" height="38"/><rect x="567.5" y="2525.8" width="38" height="38"/><rect x="575.8" y="2504.8" width="38" height="38"/><rect x="584.1" y="2486.2" width="38" height="38"/><rect x="592.5" y="2470.0" width="38" height="38"/><rect x="600.8" y="2455.0" width="38" height="38"/><rect x="609.1" y="2440.2" width="38" height="38"/><rect x="617.5" y="2424.9" width="38" height="38"/><rect x="625.8" y="2409.1" width="38" height="38"/><rect x="634.1" y="2393.4" width="38" height="38"/><rect x="642.4" y="2378.3" width="38" height="38"/><rect x="650.8" y="2364.5" width="38" height="38"/><rect x="659.1" y="2352.1" width="38" height="38"/><rect x="667.4" y="2341.2" width="38" height="38"/><rect x="675.7" y="2331.6" width="38" height="38"/><rect x="684.1" y="2322.9" width="38" height="38"/><rect x="692.4" y="2315.1" width="38" height="38"/><rect x="700.7" y="2307.9" width="38" height="38"/><rect x="709.1" y="2301.0" width="38" height="38"/><rect x="717.4" y="2294.1" width="38" height="38"/><rect x="725.7" y="2287.0" width="38" height="38"/><rect x="734.0" y="2279.6" width="38" height="38"/><rect x="742.4" y="2271.8" width="38" height="38"/><rect x="750.7" y="2263.8" width="38" height="38"/><rect x="759.0" y="2255.7" width="38" height="38"/><rect x="767.3" y="2247.9" width="38" height="38"/><rect x="775.7" y="2240.4" width="38" height="38"/><rect x="784.0" y="2233.3" width="38" height="38"/><rect x="792.3" y="2226.9" width="38" height="38"/><rect x="800.7" y="2221.0" width="38" height="38"/><rect x="809.0" y="2215.6" width="38" height="38"/><rect x="817.3" y="2210.5" width="38" height="38"/><rect x="825.6" y="2205.6" width="38" height="38"/><rect x="834.0" y="2200.9" width="38" height="38"/><rect x="842.3" y="2196.1" width="38" height="38"/><rect x="850.6" y="2191.3" width="38" height="38"/><rect x="858.9" y="2186.4" width="38" height="38"/><rect x="867.3" y="2181.4" width="38" height="38"/><rect x="875.6" y="2176.5" width="38" height="38"/><rect x="883.9" y="2171.7" width="38" height="38"/><rect x="892.3" y="2167.1" width="38" height="38"/><rect x="900.6" y="2162.6" width="38" height="38"/><rect x="908.9" y="2158.4" width="38" height="38"/><rect x="917.2" y="2154.4" width="38" height="38"/><rect x="925.6" y="2150.6" width="38" height="38"/><rect x="933.9" y="2147.0" width="38" height="38"/><rect x="942.2" y="2143.5" width="38" height="38"/><rect x="950.5" y="2140.2" width="38" height="38"/><rect x="958.9" y="2137.0" width="38" height="38"/><rect x="967.2" y="2134.0" width="38" height="38"/><rect x="975.5" y="2131.0" width="38" height="38"/><rect x="983.9" y="2128.2" width="38" height="38"/><rect x="992.2" y="2125.5" width="38" height="38"/><rect x="1000.5" y="2122.8" width="38" height="38"/><rect x="1008.8" y="2120.3" width="38" height="38"/><rect x="1017.2" y="2117.8" width="38" height="38"/><rect x="1025.5" y="2115.4" width="38" height="38"/><rect x="1033.8" y="2113.1" width="38" height="38"/><rect x="1042.2" y="2110.9" width="38" height="38"/><rect x="1050.5" y="2108.7" width="38" height="38"/><rect x="1058.8" y="2106.7" width="38" height="38"/><rect x="1067.1" y="2104.6" width="38" height="38"/><rect x="1075.5" y="2102.7" width="38" height="38"/><rect x="1083.8" y="2100.8" width="38" height="38"/><rect x="1092.1" y="2099.0" width="38" height="38"/><rect x="1100.4" y="2097.3" width="38" height="38"/><rect x="1108.8" y="2095.7" width="38" height="38"/><rect x="1117.1" y="2094.1" width="38" height="38"/><rect x="1125.4" y="2092.5" width="38" height="38"/><rect x="1133.8" y="2091.1" width="38" height="38"/><rect x="1142.1" y="2089.7" width="38" height="38"/><rect x="1150.4" y="2088.4" width="38" height="38"/><rect x="1158.7" y="2087.2" width="38" height="38"/><rect x="1167.1" y="2086.0" width="38" height="38"/><rect x="1175.4" y="2084.9" width="38" height="38"/><rect x="1183.7" y="2083.9" width="38" height="38"/><rect x="1192.0" y="2083.0" width="38" height="38"/><rect x="1200.4" y="2082.1" width="38" height="38"/><rect x="1208.7" y="2081.3" width="38" height="38"/><rect x="1217.0" y="2080.6" width="38" height="38"/><rect x="1225.4" y="2079.9" width="38" height="38"/><rect x="1233.7" y="2079.3" width="38" height="38"/><rect x="1242.0" y="2078.8" width="38" height="38"/><rect x="1250.3" y="2078.3" width="38" height="38"/><rect x="1258.7" y="2077.9" width="38" height="38"/><rect x="1267.0" y="2077.6" width="38" height="38"/><rect x="1275.3" y="2077.3" width="38" height="38"/><rect x="1283.7" y="2077.1" width="38" height="38"/><rect x="1292.0" y="2077.0" width="38" height="38"/><rect x="1300.3" y="2077.0" width="38" height="38"/><rect x="1308.6" y="2077.0" width="38" height="38"/><rect x="1317.0" y="2077.0" width="38" height="38"/><rect x="1325.3" y="2077.2" width="38" height="38"/><rect x="1333.6" y="2077.4" width="38" height="38"/><rect x="1341.9" y="2077.7" width="38" height="38"/><rect x="1350.3" y="2078.0" width="38" height="38"/><rect x="1358.6" y="2078.4" width="38" height="38"/><rect x="1366.9" y="2078.9" width="38" height="38"/><rect x="1375.3" y="2079.4" width="38" height="38"/><rect x="1383.6" y="2080.0" width="38" height="38"/><rect x="1391.9" y="2080.6" width="38" height="38"/><rect x="1400.2" y="2081.4" width="38" height="38"/><rect x="1408.6" y="2082.1" width="38" height="38"/><rect x="1416.9" y="2083.0" width="38" height="38"/><rect x="1425.2" y="2083.9" width="38" height="38"/><rect x="1433.5" y="2084.8" width="38" height="38"/><rect x="1441.9" y="2085.8" width="38" height="38"/><rect x="1450.2" y="2086.9" width="38" height="38"/><rect x="1458.5" y="2088.0" width="38" height="38"/><rect x="1466.9" y="2089.2" width="38" height="38"/><rect x="1475.2" y="2090.5" width="38" height="38"/><rect x="1483.5" y="2091.8" width="38" height="38"/><rect x="1491.8" y="2093.1" width="38" height="38"/><rect x="1500.2" y="2094.5" width="38" height="38"/><rect x="1508.5" y="2096.0" width="38" height="38"/><rect x="1516.8" y="2097.6" width="38" height="38"/><rect x="1525.1" y="2099.2" width="38" height="38"/><rect x="1533.5" y="2101.0" width="38" height="38"/><rect x="1541.8" y="2102.8" width="38" height="38"/><rect x="1550.1" y="2104.7" width="38" height="38"/><rect x="1558.5" y="2106.7" width="38" height="38"/><rect x="1566.8" y="2108.8" width="38" height="38"/><rect x="1575.1" y="2111.0" width="38" height="38"/><rect x="1583.4" y="2113.3" width="38" height="38"/><rect x="1591.8" y="2115.8" width="38" height="38"/><rect x="1600.1" y="2118.4" width="38" height="38"/><rect x="1608.4" y="2121.1" width="38" height="38"/><rect x="1616.8" y="2123.9" width="38" height="38"/><rect x="1625.1" y="2126.9" width="38" height="38"/><rect x="1633.4" y="2130.1" width="38" height="38"/><rect x="1641.7" y="2133.4" width="38" height="38"/><rect x="1650.1" y="2136.8" width="38" height="38"/><rect x="1658.4" y="2140.4" width="38" height="38"/><rect x="1666.7" y="2144.1" width="38" height="38"/><rect x="1675.0" y="2148.0" width="38" height="38"/><rect x="1683.4" y="2151.9" width="38" height="38"/><rect x="1691.7" y="2155.9" width="38" height="38"/><rect x="1700.0" y="2160.0" width="38" height="38"/><rect x="1708.4" y="2164.2" width="38" height="38"/><rect x="1716.7" y="2168.4" width="38" height="38"/><rect x="1725.0" y="2172.7" width="38" height="38"/><rect x="1733.3" y="2177.1" width="38" height="38"/><rect x="1741.7" y="2181.5" width="38" height="38"/><rect x="1750.0" y="2186.2" width="38" height="38"/><rect x="1758.3" y="2191.0" width="38" height="38"/><rect x="1766.6" y="2196.2" width="38" height="38"/><rect x="1775.0" y="2201.6" width="38" height="38"/><rect x="1783.3" y="2207.5" width="38" height="38"/><rect x="1791.6" y="2213.8" width="38" height="38"/><rect x="1800.0" y="2220.6" width="38" height="38"/><rect x="1808.3" y="2227.8" width="38" height="38"/><rect x="1816.6" y="2235.4" width="38" height="38"/><rect x="1824.9" y="2243.2" width="38" height="38"/><rect x="1833.3" y="2251.1" width="38" height="38"/><rect x="1841.6" y="2259.0" width="38" height="38"/><rect x="1849.9" y="2266.7" width="38" height="38"/><rect x="1858.2" y="2274.0" width="38" height="38"/><rect x="1866.6" y="2280.8" width="38" height="38"/><rect x="1874.9" y="2287.7" width="38" height="38"/><rect x="1883.2" y="2294.9" width="38" height="38"/><rect x="1891.6" y="2303.3" width="38" height="38"/><rect x="1899.9" y="2313.5" width="38" height="38"/><rect x="1908.2" y="2325.5" width="38" height="38"/><rect x="1916.5" y="2338.2" width="38" height="38"/><rect x="1924.9" y="2350.6" width="38" height="38"/><rect x="1933.2" y="2363.1" width="38" height="38"/><rect x="1941.5" y="2377.0" width="38" height="38"/><rect x="1949.8" y="2392.4" width="38" height="38"/><rect x="1958.2" y="2409.5" width="38" height="38"/><rect x="1966.5" y="2428.4" width="38" height="38"/><rect x="1974.8" y="2449.2" width="38" height="38"/><rect x="1983.2" y="2471.5" width="38" height="38"/><rect x="1991.5" y="2493.5" width="38" height="38"/><rect x="1999.8" y="2514.4" width="38" height="38"/><rect x="2008.1" y="2535.8" width="38" height="38"/><rect x="2016.5" y="2559.7" width="38" height="38"/><rect x="2024.8" y="2587.0" width="38" height="38"/><rect x="2033.1" y="2618.2" width="38" height="38"/><rect x="2041.5" y="2653.7" width="38" height="38"/><rect x="2049.8" y="2694.3" width="38" height="38"/><rect x="2058.1" y="2740.6" width="38" height="38"/><rect x="2066.4" y="2793.9" width="38" height="38"/><rect x="2074.8" y="2855.2" width="38" height="38"/><rect x="2083.1" y="2926.0" width="38" height="38"/><rect x="2091.4" y="3009.1" width="38" height="38"/><rect x="2099.7" y="3108.9" width="38" height="38"/><rect x="2108.1" y="3231.2" width="38" height="38"/><rect x="2116.4" y="3360.6" width="38" height="38"/></g>
<polyline points="469.9,3378.7 478.2,3248.5 486.6,3132.5 494.9,3039.8 503.2,2963.6 511.5,2899.5 519.9,2844.7 528.2,2797.0 536.5,2754.9 544.8,2717.5 553.2,2683.9 561.5,2653.5 569.8,2626.1 578.2,2601.2 586.5,2578.6 594.8,2558.0 603.1,2539.8 611.5,2523.9 619.8,2509.2 628.1,2494.6 636.5,2479.4 644.8,2463.6 653.1,2447.8 661.4,2432.5 669.8,2418.2 678.1,2405.4 686.4,2394.0 694.7,2383.8 703.1,2374.7 711.4,2366.4 719.7,2358.8 728.1,2351.6 736.4,2344.4 744.7,2337.1 753.0,2329.5 761.4,2321.5 769.7,2313.3 778.0,2305.2 786.3,2297.3 794.7,2289.8 803.0,2282.7 811.3,2276.3 819.7,2270.5 828.0,2265.1 836.3,2260.1 844.6,2255.3 853.0,2250.6 861.3,2245.9 869.6,2241.2 877.9,2236.4 886.3,2231.6 894.6,2226.8 902.9,2222.1 911.3,2217.5 919.6,2213.2 927.9,2209.1 936.2,2205.1 944.6,2201.4 952.9,2197.8 961.2,2194.4 969.5,2191.2 977.9,2188.1 986.2,2185.1 994.5,2182.2 1002.9,2179.4 1011.2,2176.7 1019.5,2174.2 1027.8,2171.7 1036.2,2169.2 1044.5,2166.9 1052.8,2164.6 1061.2,2162.4 1069.5,2160.2 1077.8,2158.2 1086.1,2156.2 1094.5,2154.3 1102.8,2152.4 1111.1,2150.6 1119.4,2148.9 1127.8,2147.2 1136.1,2145.6 1144.4,2144.1 1152.8,2142.7 1161.1,2141.3 1169.4,2140.0 1177.7,2138.7 1186.1,2137.5 1194.4,2136.4 1202.7,2135.4 1211.0,2134.4 1219.4,2133.5 1227.7,2132.7 1236.0,2131.9 1244.4,2131.2 1252.7,2130.6 1261.0,2130.0 1269.3,2129.5 1277.7,2129.1 1286.0,2128.7 1294.3,2128.4 1302.7,2128.2 1311.0,2128.0 1319.3,2127.9 1327.6,2127.9 1336.0,2127.9 1344.3,2128.0 1352.6,2128.1 1360.9,2128.3 1369.3,2128.6 1377.6,2128.9 1385.9,2129.3 1394.3,2129.8 1402.6,2130.3 1410.9,2130.9 1419.2,2131.6 1427.6,2132.3 1435.9,2133.1 1444.2,2133.9 1452.5,2134.8 1460.9,2135.8 1469.2,2136.8 1477.5,2137.8 1485.9,2139.0 1494.2,2140.1 1502.5,2141.4 1510.8,2142.7 1519.2,2144.1 1527.5,2145.6 1535.8,2147.1 1544.1,2148.7 1552.5,2150.4 1560.8,2152.2 1569.1,2154.1 1577.5,2156.1 1585.8,2158.2 1594.1,2160.5 1602.4,2162.8 1610.8,2165.3 1619.1,2167.9 1627.4,2170.6 1635.8,2173.5 1644.1,2176.6 1652.4,2179.8 1660.7,2183.2 1669.1,2186.8 1677.4,2190.5 1685.7,2194.3 1694.0,2198.3 1702.4,2202.3 1710.7,2206.5 1719.0,2210.8 1727.4,2215.1 1735.7,2219.5 1744.0,2224.0 1752.3,2228.6 1760.7,2233.3 1769.0,2238.2 1777.3,2243.3 1785.6,2248.7 1794.0,2254.4 1802.3,2260.6 1810.6,2267.2 1819.0,2274.4 1827.3,2281.9 1835.6,2289.9 1843.9,2298.0 1852.3,2306.3 1860.6,2314.5 1868.9,2322.5 1877.2,2330.2 1885.6,2337.4 1893.9,2344.5 1902.2,2352.0 1910.6,2360.6 1918.9,2371.0 1927.2,2383.2 1935.5,2396.0 1943.9,2408.5 1952.2,2421.1 1960.5,2435.0 1968.8,2450.3 1977.2,2467.3 1985.5,2486.0 1993.8,2506.6 2002.2,2528.6 2010.5,2550.3 2018.8,2570.8 2027.1,2591.8 2035.5,2615.4 2043.8,2642.3 2052.1,2673.1 2060.5,2708.3 2068.8,2748.5 2077.1,2794.6 2085.4,2847.6 2093.8,2908.5 2102.1,2978.5 2110.4,3060.2 2118.7,3157.7 2127.1,3276.4 2135.4,3400.6" fill="none" stroke="#ff3c3c" stroke-opacity="0.4" stroke-width="5"/>
<g fill="#ff3c3c"><circle cx="469.9" cy="3378.7" r="20"/><circle cx="478.2" cy="3248.5" r="20"/><circle cx="486.6" cy="3132.5" r="20"/><circle cx="494.9" cy="3039.8" r="20"/><circle cx="503.2" cy="2963.6" r="20"/><circle cx="511.5" cy="2899.5" r="20"/><circle cx="519.9" cy="2844.7" r="20"/><circle cx="528.2" cy="2797.0" r="20"/><circle cx="536.5" cy="2754.9" r="20"/><circle cx="544.8" cy="2717.5" r="20"/><circle cx="553.2" cy="2683.9" r="20"/><circle cx="561.5" cy="2653.5" r="20"/><circle cx="569.8" cy="2626.1" r="20"/><circle cx="578.2" cy="2601.2" r="20"/><circle cx="586.5" cy="2578.6" r="20"/><circle cx="594.8" cy="2558.0" r="20"/><circle cx="603.1" cy="2539.8" r="20"/><circle cx="611.5" cy="2523.9" r="20"/><circle cx="619.8" cy="2509.2" r="20"/><circle cx="628.1" cy="2494.6" r="20"/><circle cx="636.5" cy="2479.4" r="20"/><circle cx="644.8" cy="2463.6" r="20"/><circle cx="653.1" cy="2447.8" r="20"/><circle cx="661.4" cy="2432.5" r="20"/><circle cx="669.8" cy="2418.2" r="20"/><circle cx="678.1" cy="2405.4" r="20"/><circle cx="686.4" cy="2394.0" r="20"/><circle cx="694.7" cy="2383.8" r="20"/><circle cx="703.1" cy="2374.7" r="20"/><circle cx="711.4" cy="2366.4" r="20"/><circle cx="719.7" cy="2358.8" r="20"/><circle cx="728.1" cy="2351.6" r="20"/><circle cx="736.4" cy="2344.4" r="20"/><circle cx="744.7" cy="2337.1" r="20"/><circle cx="753.0" cy="2329.5" r="20"/><circle cx="761.4" cy="2321.5" r="20"/><circle cx="769.7" cy="2313.3" r="20"/><circle cx="778.0" cy="2305.2" r="20"/><circle cx="786.3" cy="2297.3" r="20"/><circle cx="794.7" cy="2289.8" r="20"/><circle cx="803.0" cy="2282.7" r="20"/><circle cx="811.3" cy="2276.3" r="20"/><circle cx="819.7" cy="2270.5" r="20"/><circle cx="828.0" cy="2265.1" r="20"/><circle cx="836.3" cy="2260.1" r="20"/><circle cx="844.6" cy="2255.3" r="20"/><circle cx="853.0" cy="2250.6" r="20"/><circle cx="861.3" cy="2245.9" r="20"/><circle cx="869.6" cy="2241.2" r="20"/><circle cx="877.9" cy="2236.4" r="20"/><circle cx="886.3" cy="2231.6" r="20"/><circle cx="894.6" cy="2226.8" r="20"/><circle cx="902.9" cy="2222.1" r="20"/><circle cx="911.3" cy="2217.5" r="20"/><circle cx="919.6" cy="2213.2" r="20"/><circle cx="927.9" cy="2209.1" r="20"/><circle cx="936.2" cy="2205.1" r="20"/><circle cx="944.6" cy="2201.4" r="20"/><circle cx="952.9" cy="2197.8" r="20"/><circle cx="961.2" cy="2194.4" r="20"/><circle cx="969.5" cy="2191.2" r="20"/><circle cx="977.9" cy="2188.1" r="20"/><circle cx="986.2" cy="2185.1" r="20"/><circle cx="994.5" cy="2182.2" r="20"/><circle cx="1002.9" cy="2179.4" r="20"/><circle cx="1011.2" cy="2176.7" r="20"/><circle cx="1019.5" cy="2174.2" r="20"/><circle cx="1027.8" cy="2171.7" r="20"/><circle cx="1036.2" cy="2169.2" r="20"/><circle cx="1044.5" cy="2166.9" r="20"/><circle cx="1052.8" cy="2164.6" r="20"/><circle cx="1061.2" cy="2162.4" r="20"/><circle cx="1069.5" cy="2160.2" r="20"/><circle cx="1077.8" cy="2158.2" r="20"/><circle cx="1086.1" cy="2156.2" r="20"/><circle cx="1094.5" cy="2154.3" r="20"/><circle cx="1102.8" cy="2152.4" r="20"/><circle cx="1111.1" cy="2150.6" r="20"/><circle cx="1119.4" cy="2148.9" r="20"/><circle cx="1127.8" cy="2147.2" r="20"/><circle cx="1136.1" cy="2145.6" r="20"/><circle cx="1144.4" cy="2144.1" r="20"/><circle cx="1152.8" cy="2142.7" r="20"/><circle cx="1161.1" cy="2141.3" r="20"/><circle cx="1169.4" cy="2140.0" r="20"/><circle cx="1177.7" cy="2138.7" r="20"/><circle cx="1186.1" cy="2137.5" r="20"/><circle cx="1194.4" cy="2136.4" r="20"/><circle cx="1202.7" cy="2135.4" r="20"/><circle cx="1211.0" cy="2134.4" r="20"/><circle cx="1219.4" cy="2133.5" r="20"/><circle cx="1227.7" cy="2132.7" r="20"/><circle cx="1236.0" cy="2131.9" r="20"/><circle cx="1244.4" cy="2131.2" r="20"/><circle cx="1252.7" cy="2130.6" r="20"/><circle cx="1261.0" cy="2130.0" r="20"/><circle cx="1269.3" cy="2129.5" r="20"/><circle cx="1277.7" cy="2129.1" r="20"/><circle cx="1286.0" cy="2128.7" r="20"/><circle cx="1294.3" cy="2128.4" r="20"/><circle cx="1302.7" cy="2128.2" r="20"/><circle cx="1311.0" cy="2128.0" r="20"/><circle cx="1319.3" cy="2127.9" r="20"/><circle cx="1327.6" cy="2127.9" r="20"/><circle cx="1336.0" cy="2127.9" r="20"/><circle cx="1344.3" cy="2128.0" r="20"/><circle cx="1352.6" cy="2128.1" r="20"/><circle cx="1360.9" cy="2128.3" r="20"/><circle cx="1369.3" cy="2128.6" r="20"/><circle cx="1377.6" cy="2128.9" r="20"/><circle cx="1385.9" cy="2129.3" r="20"/><circle cx="1394.3" cy="2129.8" r="20"/><circle cx="1402.6" cy="2130.3" r="20"/><circle cx="1410.9" cy="2130.9" r="20"/><circle cx="1419.2" cy="2131.6" r="20"/><circle cx="1427.6" cy="2132.3" r="20"/><circle cx="1435.9" cy="2133.1" r="20"/><circle cx="1444.2" cy="2133.9" r="20"/><circle cx="1452.5" cy="2134.8" r="20"/><circle cx="1460.9" cy="2135.8" r="20"/><circle cx="1469.2" cy="2136.8" r="20"/><circle cx="1477.5" cy="2137.8" r="20"/><circle cx="1485.9" cy="2139.0" r="20"/><circle cx="1494.2" cy="2140.1" r="20"/><circle cx="1502.5" cy="2141.4" r="20"/><circle cx="1510.8" cy="2142.7" r="20"/><circle cx="1519.2" cy="2144.1" r="20"/><circle cx="1527.5" cy="2145.6" r="20"/><circle cx="1535.8" cy="2147.1" r="20"/><circle cx="1544.1" cy="2148.7" r="20"/><circle cx="1552.5" cy="2150.4" r="20"/><circle cx="1560.8" cy="2152.2" r="20"/><circle cx="1569.1" cy="2154.1" r="20"/><circle cx="1577.5" cy="2156.1" r="20"/><circle cx="1585.8" cy="2158.2" r="20"/><circle cx="1594.1" cy="2160.5" r="20"/><circle cx="1602.4" cy="2162.8" r="20"/><circle cx="1610.8" cy="2165.3" r="20"/><circle cx="1619.1" cy="2167.9" r="20"/><circle cx="1627.4" cy="2170.6" r="20"/><circle cx="1635.8" cy="2173.5" r="20"/><circle cx="1644.1" cy="2176.6" r="20"/><circle cx="1652.4" cy="2179.8" r="20"/><circle cx="1660.7" cy="2183.2" r="20"/><circle cx="1669.1" cy="2186.8" r="20"/><circle cx="1677.4" cy="2190.5" r="20"/><circle cx="1685.7" cy="2194.3" r="20"/><circle cx="1694.0" cy="2198.3" r="20"/><circle cx="1702.4" cy="2202.3" r="20"/><circle cx="1710.7" cy="2206.5" r="20"/><circle cx="1719.0" cy="2210.8" r="20"/><circle cx="1727.4" cy="2215.1" r="20"/><circle cx="1735.7" cy="2219.5" r="20"/><circle cx="1744.0" cy="2224.0" r="20"/><circle cx="1752.3" cy="2228.6" r="20"/><circle cx="1760.7" cy="2233.3" r="20"/><circle cx="1769.0" cy="2238.2" r="20"/><circle cx="1777.3" cy="2243.3" r="20"/><circle cx="1785.6" cy="2248.7" r="20"/><circle cx="1794.0" cy="2254.4" r="20"/><circle cx="1802.3" cy="2260.6" r="20"/><circle cx="1810.6" cy="2267.2" r="20"/><circle cx="1819.0" cy="2274.4" r="20"/><circle cx="1827.3" cy="2281.9" r="20"/><circle cx="1835.6" cy="2289.9" r="20"/><circle cx="1843.9" cy="2298.0" r="20"/><circle cx="1852.3" cy="2306.3" r="20"/><circle cx="1860.6" cy="2314.5" r="20"/><circle cx="1868.9" cy="2322.5" r="20"/><circle cx="1877.2" cy="2330.2" r="20"/><circle cx="1885.6" cy="2337.4" r="20"/><circle cx="1893.9" cy="2344.5" r="20"/><circle cx="1902.2" cy="2352.0" r="20"/><circle cx="1910.6" cy="2360.6" r="20"/><circle cx="1918.9" cy="2371.0" r="20"/><circle cx="1927.2" cy="2383.2" r="20"/><circle cx="1935.5" cy="2396.0" r="20"/><circle cx="1943.9" cy="2408.5" r="20"/><circle cx="1952.2" cy="2421.1" r="20"/><circle cx="1960.5" cy="2435.0" r="20"/><circle cx="1968.8" cy="2450.3" r="20"/><circle cx="1977.2" cy="2467.3" r="20"/><circle cx="1985.5" cy="2486.0" r="20"/><circle cx="1993.8" cy="2506.6" r="20"/><circle cx="2002.2" cy="2528.6" r="20"/><circle cx="2010.5" cy="2550.3" r="20"/><circle cx="2018.8" cy="2570.8" r="20"/><circle cx="2027.1" cy="2591.8" r="20"/><circle cx="2035.5" cy="2615.4" r="20"/><circle cx="2043.8" cy="2642.3" r="20"/><circle cx="2052.1" cy="2673.1" r="20"/><circle cx="2060.5" cy="2708.3" r="20"/><circle cx="2068.8" cy="2748.5" r="20"/><circle cx="2077.1" cy="2794.6" r="20"/><circle cx="2085.4" cy="2847.6" r="20"/><circle cx="2093.8" cy="2908.5" r="20"/><circle cx="2102.1" cy="2978.5" r="20"/><circle cx="2110.4" cy="3060.2" r="20"/><circle cx="2118.7" cy="3157.7" r="20"/><circle cx="2127.1" cy="3276.4" r="20"/><circle cx="2135.4" cy="3400.6" r="20"/></g>
<path d="M366.7 3537 v-16 M478.9 3537 v-32 M591.0 3537 v-16 M703.2 3537 v-32 M815.4 3537 v-16 M927.6 3537 v-32 M1039.8 3537 v-16 M1152.0 3537 v-32 M1264.2 3537 v-16 M1376.3 3537 v-32 M1488.5 3537 v-16 M1600.7 3537 v-32 M1712.9 3537 v-16 M1825.1 3537 v-32 M1937.2 3537 v-16 M2049.4 3537 v-32 M2161.6 3537 v-16 M254.5 3451.5 h16 M254.5 3365.9 h32 M254.5 3280.4 h16 M254.5 3194.9 h32 M254.5 3109.4 h16 M254.5 3023.8 h32 M254.5 2938.3 h16 M254.5 2852.8 h32 M254.5 2767.3 h16 M254.5 2681.7 h32 M254.5 2596.2 h16 M254.5 2510.7 h32 M254.5 2425.2 h16 M254.5 2339.6 h32 M254.5 2254.1 h16 M254.5 2168.6 h32 M254.5 2083.1 h16 M254.5 1997.5 h32" stroke="#111" stroke-width="6.5" fill="none"/>
<rect x="254.5" y="1912" width="2019.3000000000002" height="1625" fill="none" stroke="#262626" stroke-width="7.6"/>
<text transform="translate(254.0 3625.0) scale(0.930 1)" font-size="74.3" text-anchor="middle" stroke-width="1.0">0.074</text>
<text transform="translate(478.4 3625.0) scale(0.930 1)" font-size="74.3" text-anchor="middle" stroke-width="1.0">0.072</text>
<text transform="translate(702.7 3625.0) scale(0.930 1)" font-size="74.3" text-anchor="middle" stroke-width="1.0">0.070</text>
<text transform="translate(927.1 3625.0) scale(0.930 1)" font-size="74.3" text-anchor="middle" stroke-width="1.0">0.068</text>
<text transform="translate(1151.5 3625.0) scale(0.930 1)" font-size="74.3" text-anchor="middle" stroke-width="1.0">0.066</text>
<text transform="translate(1375.8 3625.0) scale(0.930 1)" font-size="74.3" text-anchor="middle" stroke-width="1.0">0.064</text>
<text transform="translate(1600.2 3625.0) scale(0.930 1)" font-size="74.3" text-anchor="middle" stroke-width="1.0">0.062</text>
<text transform="translate(1824.6 3625.0) scale(0.930 1)" font-size="74.3" text-anchor="middle" stroke-width="1.0">0.060</text>
<text transform="translate(2048.9 3625.0) scale(0.930 1)" font-size="74.3" text-anchor="middle" stroke-width="1.0">0.058</text>
<text transform="translate(2273.3 3625.0) scale(0.930 1)" font-size="74.3" text-anchor="middle" stroke-width="1.0">0.056</text>
<text transform="translate(220.5 3557.5) scale(0.950 1)" font-size="74.3" text-anchor="end" stroke-width="1.0">0.2</text>
<text transform="translate(220.5 3386.4) scale(0.950 1)" font-size="74.3" text-anchor="end" stroke-width="1.0">0.4</text>
<text transform="translate(220.5 3215.4) scale(0.950 1)" font-size="74.3" text-anchor="end" stroke-width="1.0">0.6</text>
<text transform="translate(220.5 3044.3) scale(0.950 1)" font-size="74.3" text-anchor="end" stroke-width="1.0">0.8</text>
<text transform="translate(220.5 2873.3) scale(0.950 1)" font-size="74.3" text-anchor="end" stroke-width="1.0">1.0</text>
<text transform="translate(220.5 2702.2) scale(0.950 1)" font-size="74.3" text-anchor="end" stroke-width="1.0">1.2</text>
<text transform="translate(220.5 2531.2) scale(0.950 1)" font-size="74.3" text-anchor="end" stroke-width="1.0">1.4</text>
<text transform="translate(220.5 2360.1) scale(0.950 1)" font-size="74.3" text-anchor="end" stroke-width="1.0">1.6</text>
<text transform="translate(220.5 2189.1) scale(0.950 1)" font-size="74.3" text-anchor="end" stroke-width="1.0">1.8</text>
<text transform="translate(220.5 2018.0) scale(0.950 1)" font-size="74.3" text-anchor="end" stroke-width="1.0">2.0</text>
<text transform="translate(1264.2 3753.5) scale(0.976 1)" font-size="87.8" text-anchor="middle">+/-Z [m]</text>
<text transform="translate(88.5 2723.0) rotate(-90) scale(0.976 1)" font-size="87.8" text-anchor="middle">Velocity [m/s]</text>
<rect x="1473.5" y="2857" width="512.5" height="220" fill="#fff" stroke="#737373" stroke-width="5"/>
<path d="M1487.5 2917 h187" stroke="#4d4d4d" stroke-opacity="0.5" stroke-width="5.5"/>
<rect x="1560.5" y="2898.0" width="38" height="38" fill="#4d4d4d"/>
<path d="M1487.5 3020 h187" stroke="#ff3c3c" stroke-opacity="0.5" stroke-width="5.5"/>
<circle cx="1579.5" cy="3020" r="20" fill="#ff3c3c"/>
<text transform="translate(1695.5 2944.0) scale(0.957 1)" font-size="87.8" text-anchor="start">Line 5</text>
<text transform="translate(1695.5 3047.0) scale(0.957 1)" font-size="87.8" text-anchor="start">Line 10</text>
</g>
</svg>
</body>
</html>
